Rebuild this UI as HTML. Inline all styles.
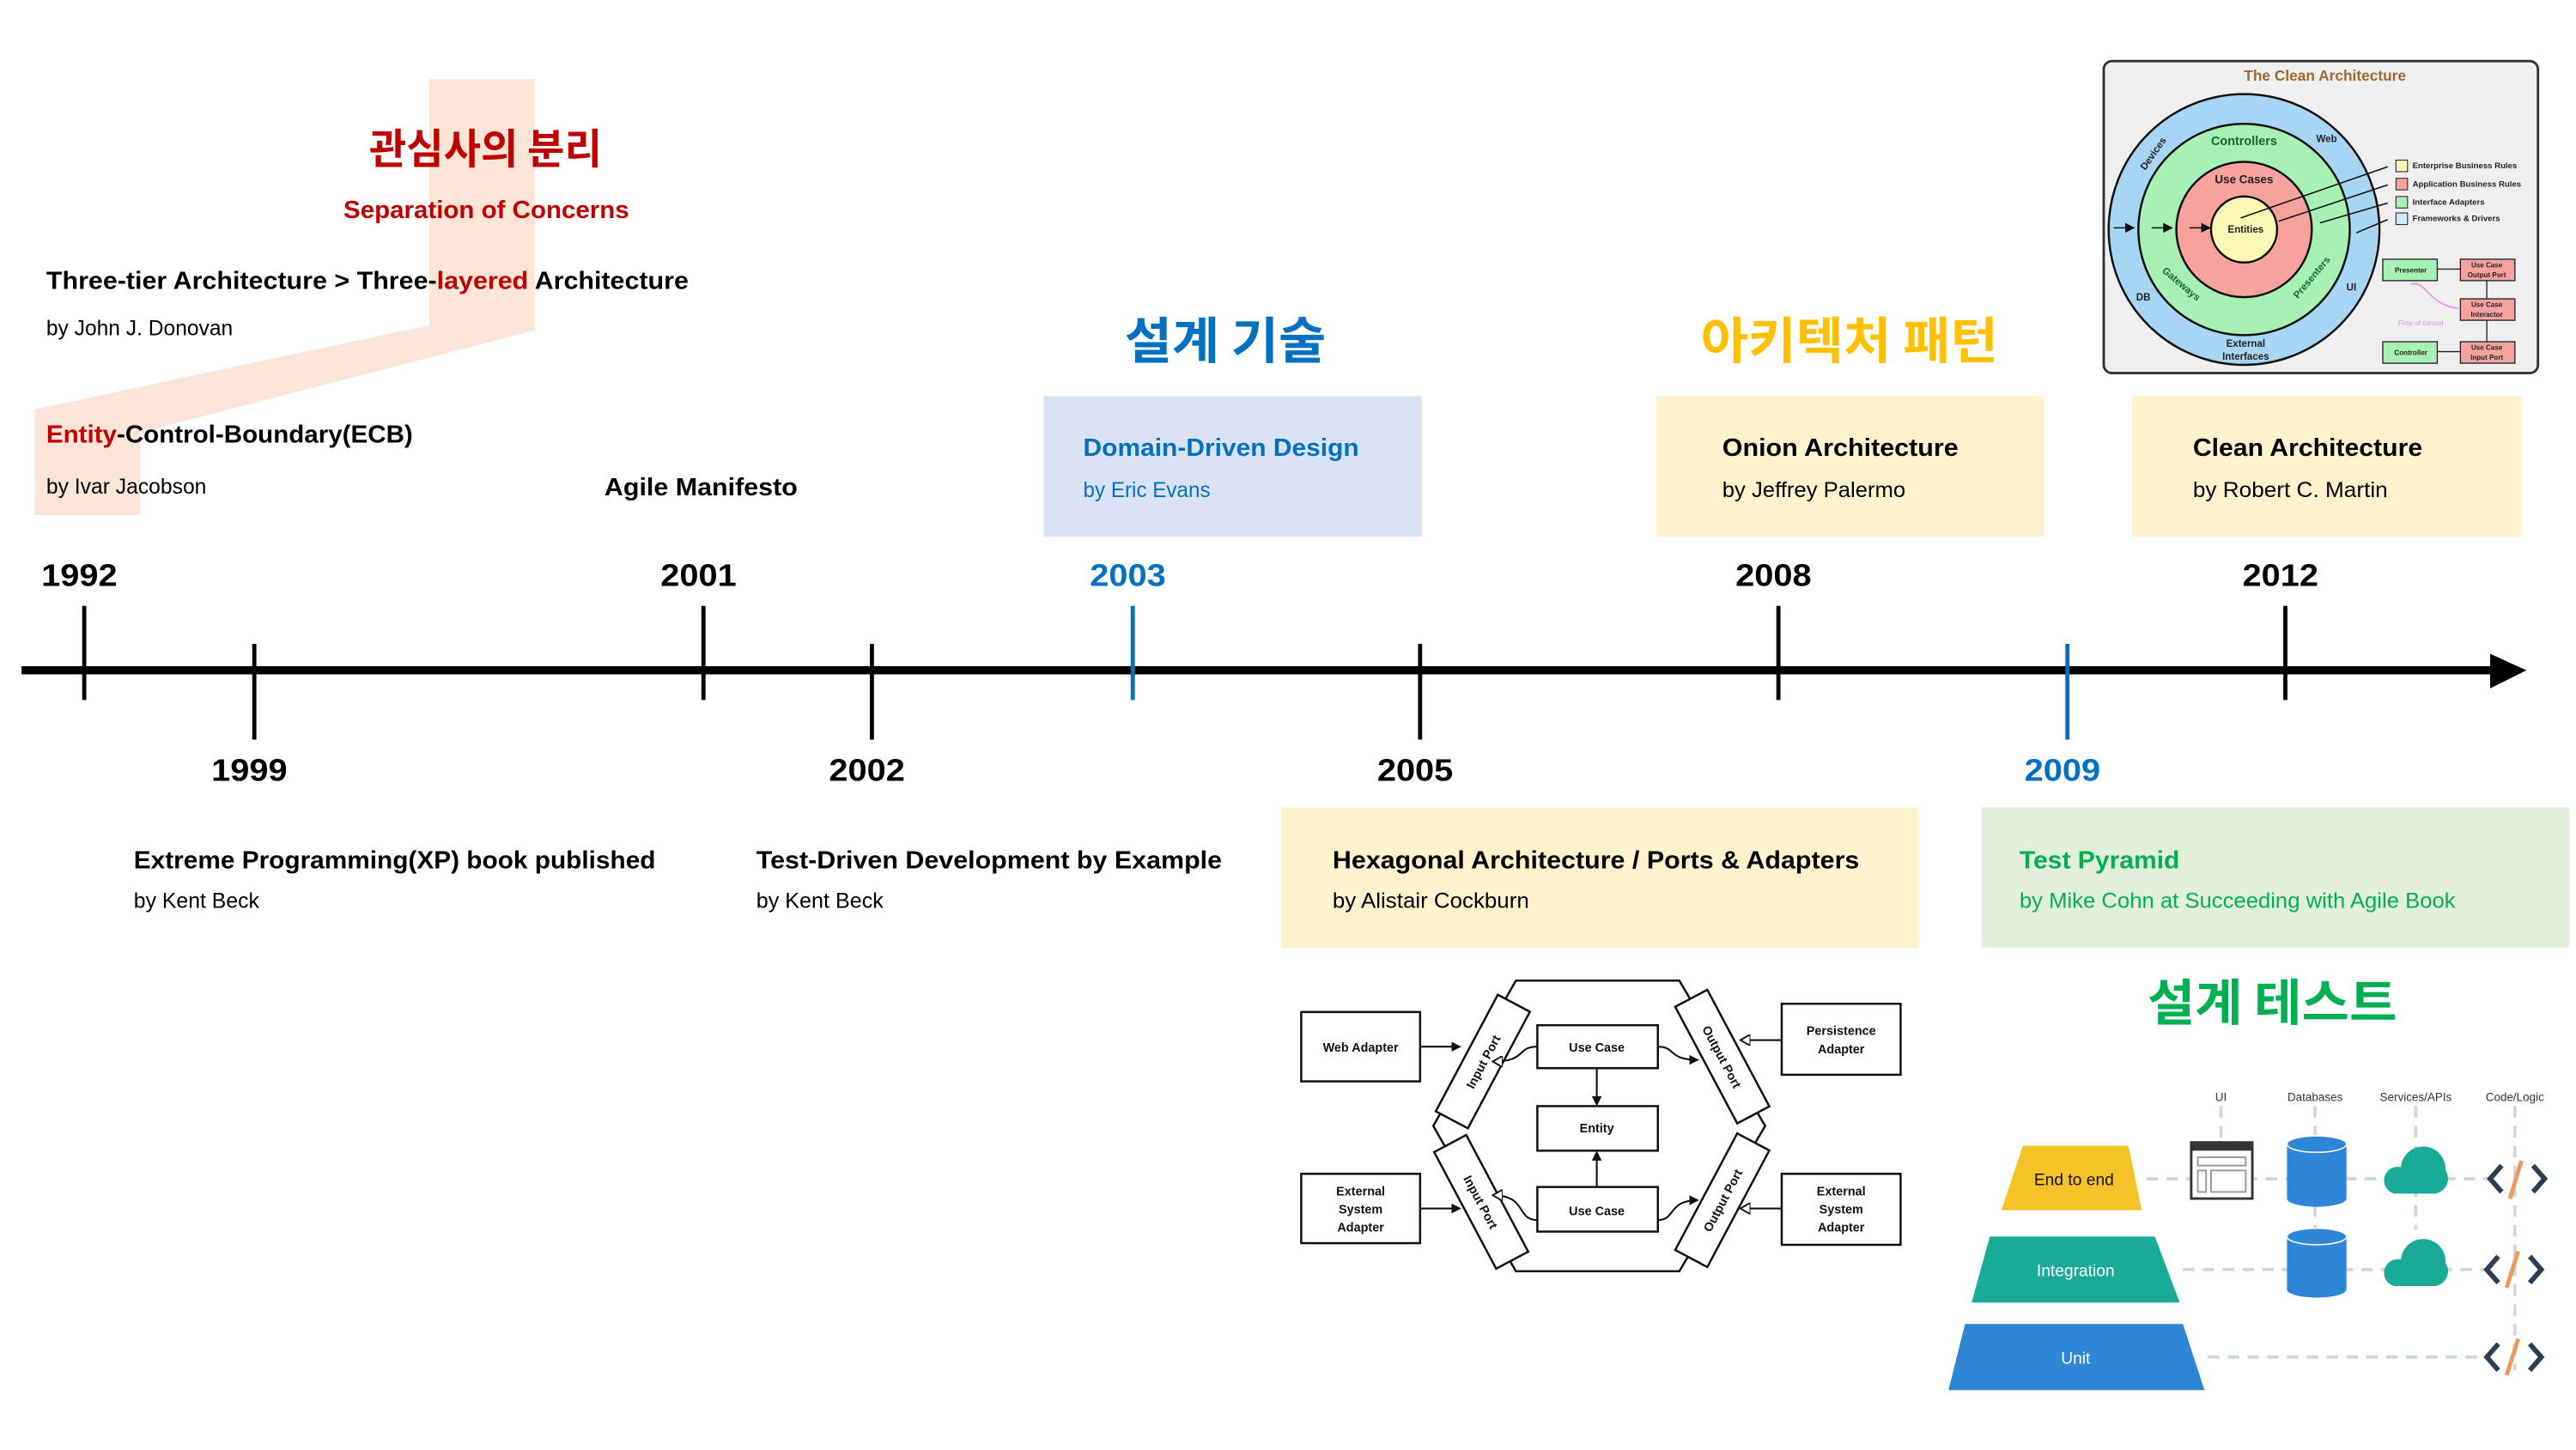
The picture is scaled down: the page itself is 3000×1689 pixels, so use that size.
<!DOCTYPE html>
<html><head><meta charset="utf-8">
<style>
html,body{margin:0;padding:0;background:#fff;}
svg{display:block;}
text{font-family:"Liberation Sans","Noto Sans CJK KR",sans-serif;}
.b{font-weight:bold;}
.kr{font-family:"Noto Sans CJK KR","Liberation Sans",sans-serif;font-weight:bold;}
</style></head>
<body>
<svg id="chart" width="3000" height="1689" viewBox="0 0 1560 878.3" xmlns="http://www.w3.org/2000/svg">
<defs>
  <marker id="ah" markerWidth="6" markerHeight="6" refX="5" refY="3" orient="auto" markerUnits="userSpaceOnUse"><path d="M0,0 L6,3 L0,6 z" fill="#111"/></marker>
  <marker id="aho" markerWidth="7" markerHeight="7" refX="6" refY="3.5" orient="auto" markerUnits="userSpaceOnUse"><path d="M0,0 L6,3.5 L0,7 z" fill="#fff" stroke="#111" stroke-width="1"/></marker>
</defs>
<rect width="1560" height="878.3" fill="#fff"/>

<polygon fill="#fbe5d6" points="260,48 324,48 324,200 85,262 85,312 21,312 21,248 260,197"/>

<text class="kr" x="294" y="99" font-size="25" fill="#c00000" text-anchor="middle" textLength="141" lengthAdjust="spacingAndGlyphs">관심사의 분리</text>
<text class="b" x="208" y="132" font-size="15" fill="#c00000" textLength="173" lengthAdjust="spacingAndGlyphs">Separation of Concerns</text>
<text class="b" x="28" y="175" font-size="15" fill="#000" textLength="389" lengthAdjust="spacingAndGlyphs">Three-tier Architecture &gt; Three-<tspan fill="#c00000">layered</tspan> Architecture</text>
<text x="28" y="203" font-size="13" fill="#000" textLength="113" lengthAdjust="spacingAndGlyphs">by John J. Donovan</text>
<text class="b" x="28" y="268" font-size="15" fill="#000" textLength="222" lengthAdjust="spacingAndGlyphs"><tspan fill="#c00000">Entity</tspan>-Control-Boundary(ECB)</text>
<text x="28" y="299" font-size="13" fill="#000" textLength="97" lengthAdjust="spacingAndGlyphs">by Ivar Jacobson</text>
<text class="b" x="366" y="300" font-size="15" fill="#000" textLength="117" lengthAdjust="spacingAndGlyphs">Agile Manifesto</text>

<text class="kr" x="742" y="217" font-size="30" fill="#0070c0" text-anchor="middle" textLength="122" lengthAdjust="spacingAndGlyphs">설계 기술</text>
<text class="kr" x="1120" y="217" font-size="30" fill="#ffc000" text-anchor="middle" textLength="180" lengthAdjust="spacingAndGlyphs">아키텍처 패턴</text>
<text class="kr" x="1376" y="618" font-size="30" fill="#00b050" text-anchor="middle" textLength="151" lengthAdjust="spacingAndGlyphs">설계 테스트</text>

<rect x="632" y="240" width="229" height="85" fill="#dae3f3"/>
<text class="b" x="656" y="276" font-size="15" fill="#0070c0" textLength="167" lengthAdjust="spacingAndGlyphs">Domain-Driven Design</text>
<text x="656" y="301" font-size="13" fill="#0070c0" textLength="77" lengthAdjust="spacingAndGlyphs">by Eric Evans</text>

<rect x="1003" y="240" width="235" height="85" fill="#fff2cc"/>
<text class="b" x="1043" y="276" font-size="15" fill="#000" textLength="143" lengthAdjust="spacingAndGlyphs">Onion Architecture</text>
<text x="1043" y="301" font-size="13" fill="#000" textLength="111" lengthAdjust="spacingAndGlyphs">by Jeffrey Palermo</text>

<rect x="1291" y="240" width="236" height="85" fill="#fff2cc"/>
<text class="b" x="1328" y="276" font-size="15" fill="#000" textLength="139" lengthAdjust="spacingAndGlyphs">Clean Architecture</text>
<text x="1328" y="301" font-size="13" fill="#000" textLength="118" lengthAdjust="spacingAndGlyphs">by Robert C. Martin</text>

<text class="b" x="81" y="526" font-size="15" fill="#000" textLength="316" lengthAdjust="spacingAndGlyphs">Extreme Programming(XP) book published</text>
<text x="81" y="550" font-size="13" fill="#000" textLength="76" lengthAdjust="spacingAndGlyphs">by Kent Beck</text>
<text class="b" x="458" y="526" font-size="15" fill="#000" textLength="282" lengthAdjust="spacingAndGlyphs">Test-Driven Development by Example</text>
<text x="458" y="550" font-size="13" fill="#000" textLength="77" lengthAdjust="spacingAndGlyphs">by Kent Beck</text>

<rect x="776" y="489" width="386" height="85" fill="#fff2cc"/>
<text class="b" x="807" y="526" font-size="15" fill="#000" textLength="319" lengthAdjust="spacingAndGlyphs">Hexagonal Architecture / Ports &amp; Adapters</text>
<text x="807" y="550" font-size="13" fill="#000" textLength="119" lengthAdjust="spacingAndGlyphs">by Alistair Cockburn</text>

<rect x="1200" y="489" width="356" height="85" fill="#e2f0d9"/>
<text class="b" x="1223" y="526" font-size="15" fill="#00b050" textLength="97" lengthAdjust="spacingAndGlyphs">Test Pyramid</text>
<text x="1223" y="550" font-size="13" fill="#00b050" textLength="264" lengthAdjust="spacingAndGlyphs">by Mike Cohn at Succeeding with Agile Book</text>

<g id="timeline">
  <line x1="13" y1="406" x2="1512" y2="406" stroke="#000" stroke-width="5"/>
  <polygon points="1508,396 1530,406 1508,417" fill="#000"/>
</g>

<g>
  <rect x="1274" y="37" width="263" height="189" rx="5" fill="#efefef" stroke="#333" stroke-width="1.5"/>
  <text x="1408" y="49" font-size="9" fill="#a0672e" text-anchor="middle" font-family="Liberation Serif,serif" font-weight="bold">The Clean Architecture</text>
  <circle cx="1359" cy="139" r="82" fill="#a7d6f5" stroke="#111" stroke-width="1.3"/>
  <circle cx="1359" cy="139" r="64" fill="#a6f1b3" stroke="#111" stroke-width="1.3"/>
  <circle cx="1359" cy="139" r="41" fill="#f8a29e" stroke="#111" stroke-width="1.3"/>
  <circle cx="1359" cy="139" r="20" fill="#fbf8b6" stroke="#111" stroke-width="1.3"/>
  <g font-size="6" font-weight="bold" fill="#222" text-anchor="middle">
    <text x="1360" y="141">Entities</text>
    <text x="1359" y="111" font-size="7">Use Cases</text>
    <text x="1359" y="88" font-size="7.5" fill="#163">Controllers</text>
    <text x="1409" y="86">Web</text>
    <text x="1304" y="95" transform="rotate(-55 1304 93)">Devices</text>
    <text x="1298" y="182">DB</text>
    <text x="1424" y="176">UI</text>
    <text x="1321" y="174" transform="rotate(40 1321 172)" fill="#163">Gateways</text>
    <text x="1400" y="170" transform="rotate(-50 1400 168)" fill="#163">Presenters</text>
    <text x="1360" y="210">External</text>
    <text x="1360" y="218">Interfaces</text>
  </g>
  <g stroke="#111" stroke-width="0.8">
    <line x1="1280" y1="138" x2="1292" y2="138" marker-end="url(#ah)"/><line x1="1303" y1="138" x2="1315" y2="138" marker-end="url(#ah)"/><line x1="1326" y1="138" x2="1338" y2="138" marker-end="url(#ah)"/>
    <line x1="1357" y1="132" x2="1446" y2="101"/><line x1="1380" y1="134" x2="1446" y2="112"/>
    <line x1="1405" y1="135" x2="1446" y2="123"/><line x1="1427" y1="141" x2="1446" y2="133"/>
  </g>
  <g stroke="#333" stroke-width="0.6">
    <rect x="1451" y="97" width="7" height="7" fill="#fbf8b6"/>
    <rect x="1451" y="108" width="7" height="7" fill="#f8a29e"/>
    <rect x="1451" y="119" width="7" height="7" fill="#a6f1b3"/>
    <rect x="1451" y="129" width="7" height="7" fill="#c7f0fb"/>
  </g>
  <g font-size="5" font-weight="bold" fill="#222">
    <text x="1461" y="102">Enterprise Business Rules</text>
    <text x="1461" y="113">Application Business Rules</text>
    <text x="1461" y="124">Interface Adapters</text>
    <text x="1461" y="134">Frameworks &amp; Drivers</text>
  </g>
  <g stroke="#222" stroke-width="0.7">
    <rect x="1443" y="157" width="33" height="13" fill="#a6f1b3"/>
    <rect x="1490" y="157" width="33" height="13" fill="#f8a29e"/>
    <rect x="1490" y="181" width="33" height="13" fill="#f8a29e"/>
    <rect x="1443" y="207" width="33" height="13" fill="#a6f1b3"/>
    <rect x="1490" y="207" width="33" height="13" fill="#f8a29e"/>
    <line x1="1476" y1="163" x2="1490" y2="163"/><line x1="1476" y1="213" x2="1490" y2="213"/>
    <line x1="1506" y1="170" x2="1506" y2="181"/><line x1="1506" y1="194" x2="1506" y2="207"/>
  </g>
  <path d="M1490,187 C1470,185 1470,170 1460,172" stroke="#e98ae8" fill="none" stroke-width="0.8"/>
  <g font-size="4.2" font-weight="bold" fill="#222" text-anchor="middle">
    <text x="1460" y="165">Presenter</text><text x="1460" y="215">Controller</text>
    <text x="1506" y="162">Use Case</text><text x="1506" y="168">Output Port</text>
    <text x="1506" y="186">Use Case</text><text x="1506" y="192">Interactor</text>
    <text x="1506" y="212">Use Case</text><text x="1506" y="218">Input Port</text>
    <text x="1466" y="197" fill="#e98ae8" font-weight="normal">Flow of control</text>
  </g>
</g>

<g stroke="#111" stroke-width="1.3" fill="#fff" font-size="7.5" font-weight="bold">
  <polygon points="918,594 1017,594 1069,682 1017,770 918,770 868,682" fill="none"/>
  <rect x="788" y="613" width="72" height="42"/>
  <rect x="788" y="711" width="72" height="42"/>
  <rect x="1079" y="608" width="72" height="43"/>
  <rect x="1079" y="711" width="72" height="43"/>
  <rect x="931" y="621" width="73" height="26"/>
  <rect x="931" y="670" width="73" height="27"/>
  <rect x="931" y="719" width="73" height="27"/>
  <rect x="858" y="632" width="80" height="22" transform="rotate(-62 898 643)"/>
  <rect x="1003" y="629" width="80" height="22" transform="rotate(62 1043 640)"/>
  <rect x="857" y="717" width="80" height="22" transform="rotate(62 897 728)"/>
  <rect x="1003" y="716" width="80" height="22" transform="rotate(-62 1043 727)"/>
  <g stroke-width="1.1" fill="none">
    <line x1="860" y1="634" x2="884" y2="634" marker-end="url(#ah)"/><line x1="860" y1="732" x2="884" y2="732" marker-end="url(#ah)"/>
    <line x1="1079" y1="630" x2="1054" y2="630" marker-end="url(#aho)"/><line x1="1079" y1="732" x2="1054" y2="732" marker-end="url(#aho)"/>
    <line x1="967" y1="647" x2="967" y2="669" marker-end="url(#ah)"/><line x1="967" y1="719" x2="967" y2="698" marker-end="url(#ah)"/>
    <path d="M931,634 C918,634 925,643 904,643" marker-end="url(#aho)"/><path d="M1004,634 C1015,634 1010,642 1028,642" marker-end="url(#ah)"/>
    <path d="M931,739 C918,739 925,724 904,724" marker-end="url(#aho)"/><path d="M1004,739 C1015,739 1010,727 1028,727" marker-end="url(#ah)"/>
  </g>
  <g stroke="none" fill="#111" font-family="Liberation Sans,sans-serif">
    <text x="824" y="637" text-anchor="middle">Web Adapter</text>
    <text x="824" y="724" text-anchor="middle">External</text><text x="824" y="735" text-anchor="middle">System</text><text x="824" y="746" text-anchor="middle">Adapter</text>
    <text x="1115" y="627" text-anchor="middle">Persistence</text><text x="1115" y="638" text-anchor="middle">Adapter</text>
    <text x="1115" y="724" text-anchor="middle">External</text><text x="1115" y="735" text-anchor="middle">System</text><text x="1115" y="746" text-anchor="middle">Adapter</text>
    <text x="967" y="637" text-anchor="middle">Use Case</text>
    <text x="967" y="686" text-anchor="middle">Entity</text>
    <text x="967" y="736" text-anchor="middle">Use Case</text>
    <text x="898" y="646" text-anchor="middle" transform="rotate(-62 898 643)">Input Port</text>
    <text x="1043" y="643" text-anchor="middle" transform="rotate(62 1043 640)">Output Port</text>
    <text x="897" y="731" text-anchor="middle" transform="rotate(62 897 728)">Input Port</text>
    <text x="1043" y="730" text-anchor="middle" transform="rotate(-62 1043 727)">Output Port</text>
  </g>
</g>

<g>
  <g stroke="#cfd8e0" stroke-width="2" stroke-dasharray="7,5" fill="none">
    <line x1="1345" y1="670" x2="1345" y2="692"/><line x1="1402" y1="670" x2="1402" y2="788"/>
    <line x1="1463" y1="670" x2="1463" y2="745"/><line x1="1523" y1="670" x2="1523" y2="830"/>
    <line x1="1300" y1="714" x2="1510" y2="714"/><line x1="1322" y1="769" x2="1508" y2="769"/>
    <line x1="1337" y1="822" x2="1508" y2="822"/>
  </g>
  <g font-size="7" fill="#333" text-anchor="middle">
    <text x="1345" y="667">UI</text><text x="1402" y="667">Databases</text>
    <text x="1463" y="667">Services/APIs</text><text x="1523" y="667">Code/Logic</text>
  </g>
  <polygon points="1225,694 1289,694 1297,733 1212,733" fill="#f5c228"/>
  <polygon points="1205,749 1305,749 1320,789 1194,789" fill="#1aab98"/>
  <polygon points="1190,802 1322,802 1335,842 1180,842" fill="#2e86d6"/>
  <text x="1256" y="718" font-size="10" fill="#111" text-anchor="middle">End to end</text>
  <text x="1257" y="773" font-size="10" fill="#fff" text-anchor="middle">Integration</text>
  <text x="1257" y="826" font-size="10" fill="#fff" text-anchor="middle">Unit</text>
  <rect x="1327" y="692" width="37" height="34" fill="#fff" stroke="#333" stroke-width="1.5"/>
  <rect x="1327" y="692" width="37" height="5" fill="#333"/>
  <rect x="1331" y="701" width="29" height="5" fill="none" stroke="#999"/>
  <rect x="1331" y="709" width="5" height="13" fill="none" stroke="#999"/>
  <rect x="1339" y="709" width="21" height="13" fill="none" stroke="#999"/>
  <g fill="#2e86d6">
    <rect x="1385" y="693" width="36" height="33"/><ellipse cx="1403" cy="693" rx="18" ry="5" stroke="#fff" stroke-width="0.8"/><ellipse cx="1403" cy="726" rx="18" ry="5"/>
    <rect x="1385" y="749" width="36" height="32"/><ellipse cx="1403" cy="749" rx="18" ry="5" stroke="#fff" stroke-width="0.8"/><ellipse cx="1403" cy="781" rx="18" ry="5"/>
  </g>
  <g fill="#1aab98">
    <path d="M1450,723 a8,8 0 0 1 4,-16 a13,13 0 0 1 27,2 a9,9 0 0 1 -8,14 z"/>
    <path d="M1450,779 a8,8 0 0 1 4,-16 a13,13 0 0 1 27,2 a9,9 0 0 1 -8,14 z"/>
  </g>
  <g stroke="#2b3f52" stroke-width="3" fill="none">
    <polyline points="1515,706 1508,714 1515,722"/><polyline points="1534,706 1541,714 1534,722"/>
    <polyline points="1513,761 1506,769 1513,777"/><polyline points="1532,761 1539,769 1532,777"/>
    <polyline points="1513,814 1506,822 1513,830"/><polyline points="1532,814 1539,822 1532,830"/>
  </g>
  <g stroke="#ec9a5b" stroke-width="2.5">
    <line x1="1527" y1="703" x2="1520" y2="726"/><line x1="1525" y1="758" x2="1518" y2="780"/><line x1="1525" y1="811" x2="1518" y2="833"/>
  </g>
</g>
</svg>
<script>
const years = ["1992","1999","2001","2002","2003","2005","2008","2009","2012"];
const yearPositions = [1992,1999,2001,2002,2003,2005,2008,2009,2012];
const tickSide = ["up","down","up","down","up","down","up","down","up"];
const tickColor = ["#000","#000","#000","#000","#0070c0","#000","#000","#0070c0","#000"];
const anchorYears = [1992,1999,2001,2002,2003,2005,2008,2009,2012];
const anchorX = [51,154,426,528,686,860,1077,1252,1384];
function xScale(yr){
  for(let i=0;i<anchorYears.length-1;i++){
    if(yr<=anchorYears[i+1]){const t=(yr-anchorYears[i])/(anchorYears[i+1]-anchorYears[i]);return anchorX[i]+t*(anchorX[i+1]-anchorX[i]);}
  }
  return anchorX[anchorX.length-1];
}
const NS="http://www.w3.org/2000/svg";
const g=document.getElementById('timeline');
years.forEach((y,i)=>{
  const x=xScale(yearPositions[i]);
  const up=tickSide[i]==="up";
  const ln=document.createElementNS(NS,'line');
  ln.setAttribute('x1',x);ln.setAttribute('x2',x);
  ln.setAttribute('y1',up?367:390);ln.setAttribute('y2',up?424:448);
  ln.setAttribute('stroke',tickColor[i]);ln.setAttribute('stroke-width',2.5);
  
  
  g.appendChild(ln);
  const t=document.createElementNS(NS,'text');
  t.setAttribute('x',x-3);t.setAttribute('y',up?355:473);
  t.setAttribute('text-anchor','middle');t.setAttribute('font-size','19');
  t.setAttribute('font-weight','bold');t.setAttribute('fill',tickColor[i]);
  t.setAttribute('textLength','46');t.setAttribute('lengthAdjust','spacingAndGlyphs');
  t.textContent=y;
  
  
  g.appendChild(t);
});
</script>
</body></html>
